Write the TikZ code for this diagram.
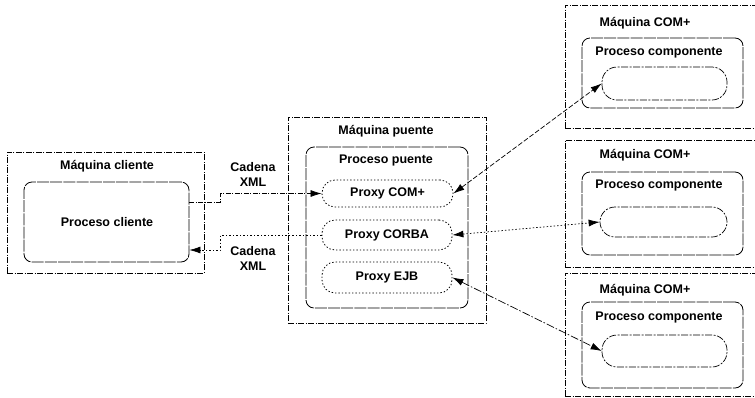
\documentclass[tikz,border=0pt]{standalone}
\usepackage{fontspec}
\setmainfont{Liberation Sans}
\usetikzlibrary{arrows.meta}
\begin{document}
\begin{tikzpicture}[x=1pt,y=-1pt,
  every node/.style={font=\fontsize{12.5}{15}\selectfont\bfseries, inner sep=0pt},
  machine/.style={draw, line width=0.6pt, dash pattern=on 6pt off 1.5pt on 1pt off 1.5pt},
  process/.style={draw, line width=0.8pt, rounded corners=8pt, dash pattern=on 12pt off 1.2pt},
  proxy/.style={draw, line width=0.8pt, rounded corners=13pt, dash pattern=on 1.4pt off 2pt},
  comp/.style={draw, line width=0.7pt, rounded corners=15pt, dash pattern=on 7pt off 1.5pt on 2pt off 1.5pt},
  conn/.style={line width=0.7pt},
  tip/.style={-{Latex[length=11pt,width=7pt]}},
  tips/.style={{Latex[length=11pt,width=7pt]}-{Latex[length=11pt,width=7pt]}},
  lbl/.style={align=center}
]
\useasboundingbox (0,0) rectangle (755,397);

% client machine
\node[machine, minimum width=197pt, minimum height=121pt] (cm) at (105.5,212.5) {};
\node (cmt) at (107,166) {Máquina cliente};
\node[process, minimum width=165pt, minimum height=80pt] (cin) at (106.5,222) {};
\node (cint) at (107,222) {Proceso cliente};

% bridge machine
\node[machine, minimum width=198pt, minimum height=206pt] (bm) at (387,220) {};
\node (bmt) at (386,131) {Máquina puente};
\node[process, minimum width=162pt, minimum height=161pt] (bin) at (387,227.5) {};
\node (bint) at (386,160) {Proceso puente};
\node[proxy, minimum width=131pt, minimum height=27pt] (pcom) at (387.5,193.5) {Proxy COM+};
\node[proxy, minimum width=130pt, minimum height=30pt] (pcorba) at (387,235) {Proxy CORBA};
\node[proxy, minimum width=130pt, minimum height=31pt] (pejb) at (387,277.5) {Proxy EJB};

% labels on the XML links
\node[lbl] (xml1) at (253,174) {Cadena\\XML};
\node[lbl] (xml2) at (253,258) {Cadena\\XML};

% COM+ machines
\node[machine, minimum width=195pt, minimum height=123pt] (m1) at (662.5,66.5) {};
\node (m1t) at (645,23) {Máquina COM+};
\node[process, minimum width=161pt, minimum height=70pt] (p1) at (662.5,73) {};
\node (p1t) at (659,52) {Proceso componente};
\node[comp, minimum width=125pt, minimum height=33pt] (c1) at (664.5,83.5) {};

\node[machine, minimum width=195pt, minimum height=127pt] (m2) at (662.5,203.5) {};
\node (m2t) at (645,155) {Máquina COM+};
\node[process, minimum width=161pt, minimum height=83pt] (p2) at (662.5,213.5) {};
\node (p2t) at (659,185) {Proceso componente};
\node[comp, minimum width=127pt, minimum height=30pt] (c2) at (663.5,222) {};

\node[machine, minimum width=195pt, minimum height=123pt] (m3) at (662.5,334.5) {};
\node (m3t) at (645,290) {Máquina COM+};
\node[process, minimum width=161pt, minimum height=86pt] (p3) at (662.5,345) {};
\node (p3t) at (659,317) {Proceso componente};
\node[comp, minimum width=125pt, minimum height=32pt] (c3) at (664.5,351) {};

% client <-> bridge
\draw[conn, tip, dash pattern=on 5pt off 1.5pt on 1pt off 1.5pt]
  ([yshift=20pt]cin.east) -- ++(31,0) |- (pcom.west);
\draw[conn, tip, dash pattern=on 1.5pt off 2pt]
  (pcorba.west) -| ++(-101,15) -- ([yshift=-28pt]cin.east);

% bridge <-> components
\draw[conn, tips, dash pattern=on 5pt off 2pt] (pcom.east) -- (c1.west);
\draw[conn, tips, dash pattern=on 1.5pt off 2pt] (pcorba.east) -- (c2.west);
\draw[conn, tips, dash pattern=on 8pt off 2pt on 1.5pt off 2pt] (pejb.east) -- (c3.west);
\end{tikzpicture}
\end{document}
